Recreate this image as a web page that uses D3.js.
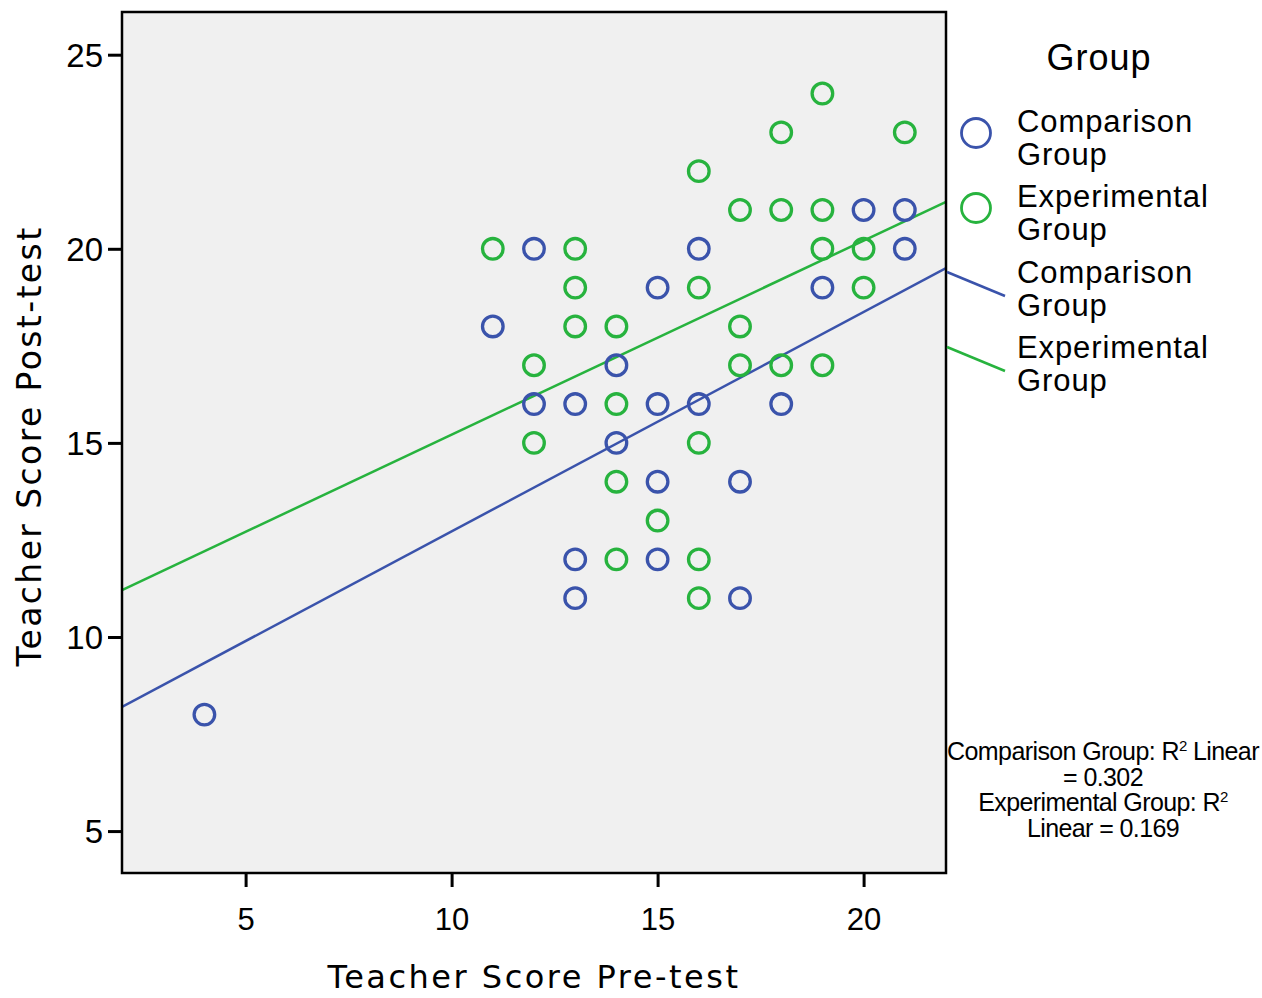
<!DOCTYPE html>
<html>
<head>
<meta charset="utf-8">
<script src="https://cdn.jsdelivr.net/npm/d3@7"></script>
<style>
  body { margin: 0; background: #fff; }
  svg { display: block; }
</style>
</head>
<body>
<svg id="chart" width="1262" height="998"></svg>
<script>
// comparison group points [pre, post]
var comparisonPre  = [4, 11, 12, 12, 13, 13, 13, 14, 14, 15, 15, 15, 15, 16, 16, 17, 17, 18, 19, 20, 21, 21];
var comparisonPost = [8, 18, 20, 16, 16, 12, 11, 17, 15, 19, 16, 14, 12, 20, 16, 14, 11, 16, 19, 21, 21, 20];

// experimental group points
var experimentalPre  = [11, 12, 12, 13, 13, 13, 14, 14, 14, 14, 15, 16, 16, 16, 16, 16, 17, 17, 17, 18, 18, 18, 19, 19, 19, 19, 20, 20, 21];
var experimentalPost = [20, 17, 15, 20, 19, 18, 18, 16, 14, 12, 13, 22, 19, 15, 12, 11, 21, 18, 17, 23, 21, 17, 24, 21, 20, 17, 20, 19, 23];

// fit lines: [intercept, slope]
var comparisonFit = [7.07, 0.565];
var experimentalFit = [10.21, 0.5];

var xTicks = [5, 10, 15, 20];
var yTicks = [5, 10, 15, 20, 25];
var groupNames = ["Comparison Group", "Experimental Group"];
var r2Lines = ["Comparison Group: R|2| Linear", "= 0.302", "Experimental Group: R|2|", "Linear = 0.169"];

var blue = "#3a53ab";
var green = "#27b33e";

var svg = d3.select("#chart");
var pLeft = 122, pRight = 946, pTop = 12, pBottom = 873;

var x = d3.scaleLinear().domain([2, 22]).range([pLeft, pRight]);
var y = d3.scaleLinear().domain([3.92, 26.1]).range([pBottom, pTop]);

svg.append("rect")
    .attr("x", pLeft).attr("y", pTop)
    .attr("width", pRight - pLeft).attr("height", pBottom - pTop)
    .attr("fill", "#f0f0f0");

// clip for fit lines
svg.append("clipPath").attr("id", "plotclip")
    .append("rect").attr("x", pLeft).attr("y", pTop)
    .attr("width", pRight - pLeft).attr("height", pBottom - pTop);

var fits = [[comparisonFit, blue], [experimentalFit, green]];
fits.forEach(function (f) {
    var line = d3.line().x(function (d) { return x(d); }).y(function (d) { return y(f[0][0] + f[0][1] * d); });
    svg.append("path")
        .attr("clip-path", "url(#plotclip)")
        .attr("d", line([2, 22]))
        .attr("fill", "none")
        .attr("stroke", f[1])
        .attr("stroke-width", 2.5);
});

function drawPoints(pre, post, col) {
    svg.append("g").selectAll("circle")
        .data(pre)
        .enter().append("circle")
        .attr("cx", function (d) { return x(d); })
        .attr("cy", function (d, i) { return y(post[i]); })
        .attr("r", 10.3)
        .attr("fill", "none")
        .attr("stroke", col)
        .attr("stroke-width", 3.3);
}
drawPoints(comparisonPre, comparisonPost, blue);
drawPoints(experimentalPre, experimentalPost, green);

// axes
var xAxis = svg.append("g")
    .attr("transform", "translate(0," + pBottom + ")")
    .call(d3.axisBottom(x).tickValues(xTicks).tickSize(14).tickPadding(21));
var yAxis = svg.append("g")
    .attr("transform", "translate(" + pLeft + ",0)")
    .call(d3.axisLeft(y).tickValues(yTicks).tickSize(14).tickPadding(5));

[xAxis, yAxis].forEach(function (a) {
    a.select(".domain").remove();
    a.selectAll(".tick line").attr("stroke", "#000").attr("stroke-width", 3);
    a.selectAll(".tick text")
        .attr("fill", "#000")
        .style("font-family", "'Liberation Sans', Arial, sans-serif")
        .style("font-size", "31px");
});
yAxis.selectAll(".tick text").attr("dy", "0.36em").style("font-size", "33px");

svg.append("rect")
    .attr("x", pLeft).attr("y", pTop)
    .attr("width", pRight - pLeft).attr("height", pBottom - pTop)
    .attr("fill", "none")
    .attr("stroke", "#000")
    .attr("stroke-width", 2.5);

// axis titles
svg.append("text")
    .attr("x", 534).attr("y", 988)
    .attr("text-anchor", "middle")
    .style("font-family", "'DejaVu Sans', Verdana, sans-serif")
    .style("font-size", "32px")
    .style("letter-spacing", "2.5px")
    .text("Teacher Score Pre-test");

svg.append("text")
    .attr("transform", "translate(41,446) rotate(-90)")
    .attr("text-anchor", "middle")
    .style("font-family", "'DejaVu Sans', Verdana, sans-serif")
    .style("font-size", "33px")
    .style("letter-spacing", "2.4px")
    .text("Teacher Score Post-test");

// legend
var lf = "'Liberation Sans', Arial, sans-serif";
svg.append("text")
    .attr("x", 1099).attr("y", 70)
    .attr("text-anchor", "middle")
    .style("font-family", lf)
    .style("font-size", "36px")
    .style("letter-spacing", "1px")
    .text("Group");

var legendRows = [
    { kind: "circle", col: blue, name: groupNames[0], y: 132 },
    { kind: "circle", col: green, name: groupNames[1], y: 207 },
    { kind: "line", col: blue, name: groupNames[0], y: 283 },
    { kind: "line", col: green, name: groupNames[1], y: 358 }
];
legendRows.forEach(function (d) {
    if (d.kind == "circle") {
        svg.append("circle")
            .attr("cx", 976).attr("cy", d.y + 1)
            .attr("r", 14.5)
            .attr("fill", "none")
            .attr("stroke", d.col)
            .attr("stroke-width", 2.8);
    } else {
        svg.append("line")
            .attr("x1", 947).attr("y1", d.y - 11)
            .attr("x2", 1005).attr("y2", d.y + 13)
            .attr("stroke", d.col)
            .attr("stroke-width", 2.5);
    }
    var words = d.name.split(" ");
    var t = svg.append("text")
        .attr("x", 1017).attr("y", d.y)
        .style("font-family", lf)
        .style("font-size", "31px")
        .style("letter-spacing", "0.9px");
    t.append("tspan").attr("x", 1017).attr("y", d.y).text(words[0]);
    t.append("tspan").attr("x", 1017).attr("y", d.y + 33).text(words[1]);
});

// R squared note
r2Lines.forEach(function (s, i) {
    var parts = s.split("|");
    var t = svg.append("text")
        .attr("x", 1103).attr("y", 760 + i * 25.5)
        .attr("text-anchor", "middle")
        .style("font-family", lf)
        .style("font-size", "25px")
        .style("letter-spacing", "-0.6px");
    t.append("tspan").text(parts[0]);
    if (parts.length > 1) {
        t.append("tspan").attr("dy", "-9").style("font-size", "15px").text(parts[1]);
        t.append("tspan").attr("dy", "9").text(parts[2]);
    }
});
</script>
</body>
</html>
